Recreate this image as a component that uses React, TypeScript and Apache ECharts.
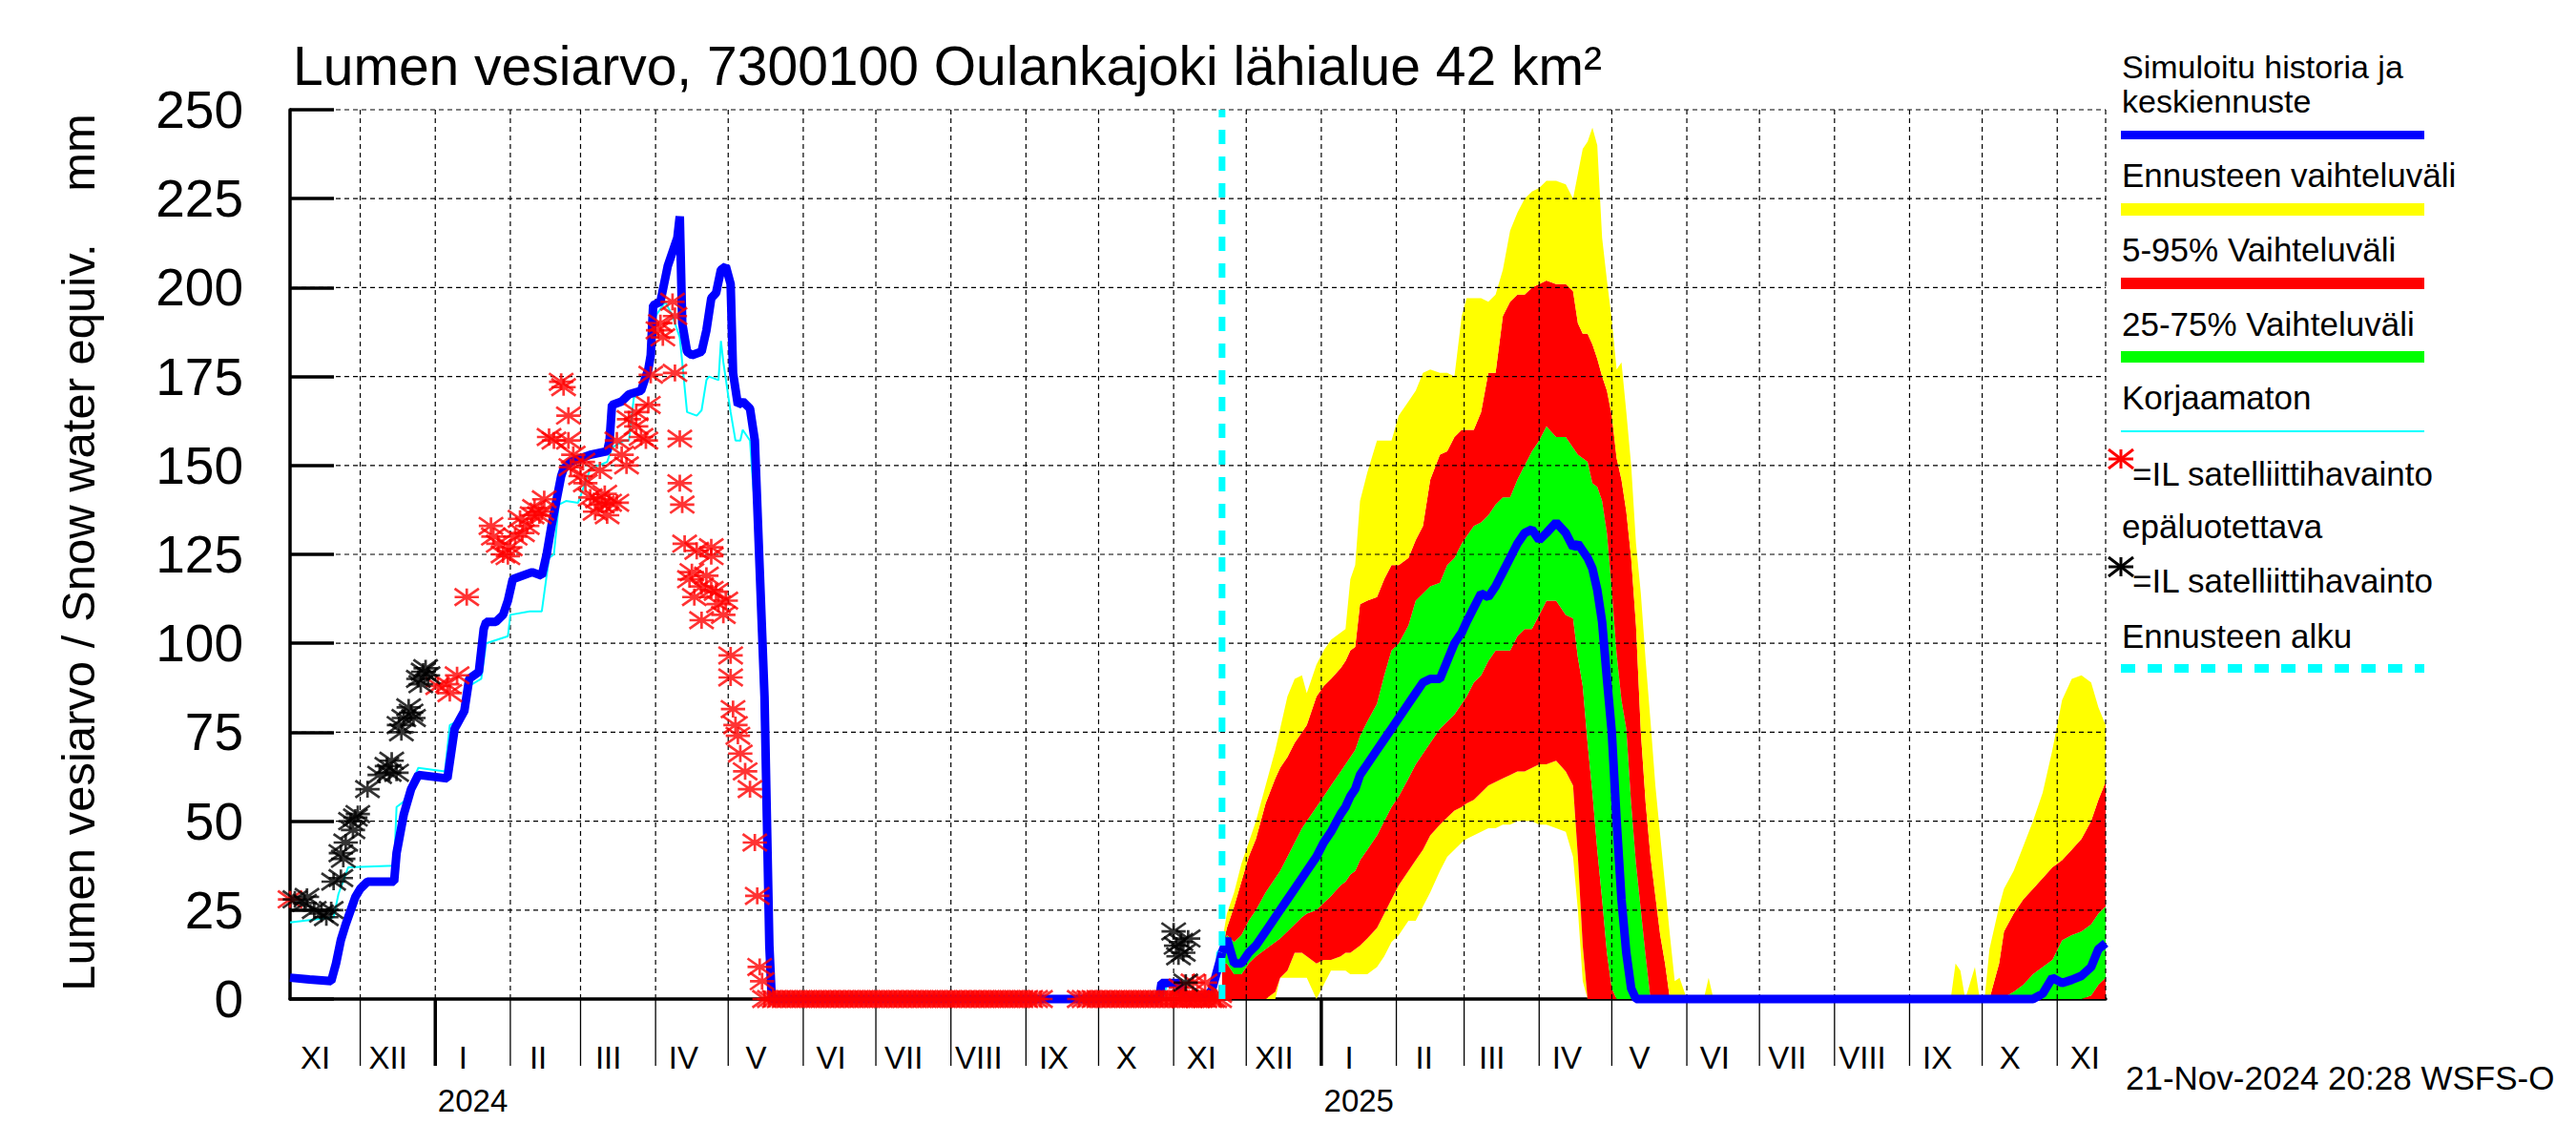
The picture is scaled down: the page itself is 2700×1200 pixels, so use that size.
import React, { useEffect, useRef } from 'react';
import * as echarts from 'echarts';

const FONT = '"Liberation Sans", Arial, Helvetica, sans-serif';

const TITLE = 'Lumen vesiarvo, 7300100 Oulankajoki lähialue 42 km²';
const Y_NAME = 'Lumen vesiarvo / Snow water equiv.    mm';
const STAMP = '21-Nov-2024 20:28 WSFS-O';
const X_MIN = '2023-11-02';
const X_MAX = '2025-11-21';
const FORECAST_START = '2024-11-21';

const yTicks = [0, 25, 50, 75, 100, 125, 150, 175, 200, 225, 250];
const monthLabels = ['XI', 'XII', 'I', 'II', 'III', 'IV', 'V', 'VI', 'VII', 'VIII', 'IX', 'X', 'XI', 'XII', 'I', 'II', 'III', 'IV', 'V', 'VI', 'VII', 'VIII', 'IX', 'X', 'XI'];
const yearLabels = ['2024', '2025'];

const legendLabels = {
  sim1: 'Simuloitu historia ja',
  sim2: 'keskiennuste',
  range: 'Ennusteen vaihteluväli',
  p595: '5-95% Vaihteluväli',
  p2575: '25-75% Vaihteluväli',
  raw: 'Korjaamaton',
  obs: '=IL satelliittihavainto',
  unrel: 'epäluotettava',
  start: 'Ennusteen alku',
};

// Simulated history (blue)
const simHistory: [string, number][] = [
  ['2023-11-02', 6], ['2023-11-10', 5.5], ['2023-11-19', 5], ['2023-11-21', 10], ['2023-11-23', 16.6],
  ['2023-11-25', 21], ['2023-11-29', 28.7], ['2023-12-01', 31], ['2023-12-04', 33], ['2023-12-15', 33],
  ['2023-12-16', 41], ['2023-12-19', 52], ['2023-12-22', 59], ['2023-12-25', 63], ['2024-01-06', 62],
  ['2024-01-09', 76], ['2024-01-13', 81], ['2024-01-15', 90], ['2024-01-19', 92], ['2024-01-21', 104],
  ['2024-01-22', 106], ['2024-01-26', 106], ['2024-01-29', 108], ['2024-01-31', 112], ['2024-02-02', 118],
  ['2024-02-10', 120], ['2024-02-14', 119], ['2024-02-16', 125], ['2024-02-18', 133], ['2024-02-20', 140],
  ['2024-02-22', 147], ['2024-02-23', 149], ['2024-02-26', 151], ['2024-03-05', 153], ['2024-03-12', 154],
  ['2024-03-13', 157], ['2024-03-14', 167], ['2024-03-18', 168], ['2024-03-21', 170], ['2024-03-26', 171],
  ['2024-03-29', 177], ['2024-03-30', 181], ['2024-03-31', 195], ['2024-04-03', 196], ['2024-04-06', 206],
  ['2024-04-10', 214], ['2024-04-11', 220], ['2024-04-12', 190], ['2024-04-14', 182], ['2024-04-16', 181],
  ['2024-04-20', 182], ['2024-04-22', 188], ['2024-04-24', 197], ['2024-04-26', 198.5], ['2024-04-28', 205],
  ['2024-04-30', 206], ['2024-05-02', 201], ['2024-05-03', 176], ['2024-05-05', 167], ['2024-05-07', 168],
  ['2024-05-10', 166], ['2024-05-12', 157], ['2024-05-13', 139], ['2024-05-14', 121], ['2024-05-15', 103],
  ['2024-05-16', 85], ['2024-05-17', 50], ['2024-05-18', 15], ['2024-05-19', 0], ['2024-10-26', 0],
  ['2024-10-27', 4.5], ['2024-11-03', 4.5], ['2024-11-05', 0.5], ['2024-11-15', 0.5], ['2024-11-17', 3],
  ['2024-11-19', 8], ['2024-11-21', 13],
];

// Uncorrected simulation (cyan)
const uncorrected: [string, number][] = [
  ['2023-11-02', 21.5], ['2023-11-20', 23], ['2023-11-22', 29.5], ['2023-11-26', 37], ['2023-12-15', 37.5],
  ['2023-12-16', 54], ['2023-12-19', 55.5], ['2023-12-25', 65], ['2024-01-05', 64], ['2024-01-07', 77],
  ['2024-01-10', 78], ['2024-01-13', 80], ['2024-01-15', 88], ['2024-01-20', 90], ['2024-01-22', 100],
  ['2024-01-31', 102], ['2024-02-01', 108], ['2024-02-09', 109], ['2024-02-14', 109], ['2024-02-17', 124],
  ['2024-02-19', 125], ['2024-02-21', 139], ['2024-02-24', 140], ['2024-02-29', 139.5], ['2024-03-05', 149],
  ['2024-03-12', 151], ['2024-03-14', 155], ['2024-03-19', 157], ['2024-03-21', 157], ['2024-03-23', 169],
  ['2024-03-27', 171], ['2024-03-30', 177], ['2024-03-31', 182], ['2024-04-01', 192], ['2024-04-05', 196],
  ['2024-04-08', 192], ['2024-04-11', 186], ['2024-04-12', 179], ['2024-04-14', 165], ['2024-04-18', 164],
  ['2024-04-20', 165.5], ['2024-04-22', 174], ['2024-04-23', 175], ['2024-04-27', 174], ['2024-04-28', 185],
  ['2024-04-29', 179], ['2024-05-02', 165], ['2024-05-04', 157], ['2024-05-06', 157], ['2024-05-07', 160],
  ['2024-05-10', 157], ['2024-05-11', 147], ['2024-05-13', 130], ['2024-05-14', 103], ['2024-05-15', 80],
  ['2024-05-17', 30], ['2024-05-18', 0], ['2024-10-28', 0], ['2024-10-29', 4], ['2024-11-04', 4],
  ['2024-11-05', 0], ['2024-11-18', 0], ['2024-11-19', 13], ['2024-11-21', 15],
];

// Satellite observations (red stars), non-zero
const satObs: [string, number][] = [
  ['2023-11-02', 28], ['2024-01-02', 88], ['2024-01-06', 88.5], ['2024-01-07', 86], ['2024-01-10', 91],
  ['2024-01-14', 113], ['2024-01-24', 133], ['2024-01-25', 130], ['2024-01-27', 128], ['2024-01-29', 125],
  ['2024-01-31', 124.5], ['2024-02-01', 127], ['2024-02-03', 130], ['2024-02-05', 135], ['2024-02-06', 131],
  ['2024-02-08', 133], ['2024-02-10', 136], ['2024-02-11', 138], ['2024-02-13', 136], ['2024-02-14', 137],
  ['2024-02-15', 140.5], ['2024-02-17', 158], ['2024-02-19', 157], ['2024-02-22', 173.5], ['2024-02-23', 172],
  ['2024-02-25', 164], ['2024-02-25', 157], ['2024-02-26', 149.5], ['2024-02-27', 153], ['2024-03-01', 147],
  ['2024-03-02', 151], ['2024-03-03', 145], ['2024-03-05', 141], ['2024-03-07', 137], ['2024-03-08', 140.5],
  ['2024-03-09', 148.6], ['2024-03-10', 139], ['2024-03-11', 142], ['2024-03-12', 136], ['2024-03-13', 139.5],
  ['2024-03-16', 139.5], ['2024-03-16', 157], ['2024-03-18', 153], ['2024-03-20', 150], ['2024-03-21', 163],
  ['2024-03-24', 161], ['2024-03-24', 165], ['2024-03-26', 158], ['2024-03-28', 157], ['2024-03-29', 167],
  ['2024-03-30', 175.5], ['2024-04-02', 188], ['2024-04-03', 190], ['2024-04-04', 186], ['2024-04-08', 196],
  ['2024-04-09', 192], ['2024-04-09', 176], ['2024-04-11', 157.5], ['2024-04-11', 145], ['2024-04-12', 139],
  ['2024-04-13', 128], ['2024-04-15', 118], ['2024-04-16', 120], ['2024-04-17', 113], ['2024-04-18', 126],
  ['2024-04-20', 116], ['2024-04-20', 106.5], ['2024-04-22', 119], ['2024-04-24', 127], ['2024-04-24', 124.5],
  ['2024-04-24', 115], ['2024-04-26', 114.5], ['2024-04-27', 111], ['2024-04-29', 108], ['2024-04-30', 112],
  ['2024-05-02', 96.6], ['2024-05-02', 90.4], ['2024-05-03', 81.5], ['2024-05-04', 77], ['2024-05-05', 74],
  ['2024-05-06', 69], ['2024-05-08', 64], ['2024-05-10', 59], ['2024-05-12', 44], ['2024-05-13', 29],
  ['2024-05-14', 9], ['2024-05-15', 5], ['2024-11-04', 3.2], ['2024-11-05', 0], ['2024-11-09', 4.6],
  ['2024-11-11', 0], ['2024-11-14', 4.6], ['2024-11-17', 0], ['2024-11-20', 1.4],
];

// Satellite observations at zero SWE (days of month)
const zeroObsMay24 = [16, 18, 20, 22, 24, 26, 28, 30];
const zeroObsJun24 = [1, 3, 5, 7, 9, 11, 13, 15, 17, 19, 21, 23, 25, 27, 29];
const zeroObsJul24 = [1, 3, 5, 7, 9, 11, 13, 15, 17, 19, 21, 23, 25, 27, 29, 31];
const zeroObsAug24 = [2, 4, 6, 8, 10, 12, 14, 16, 18, 20, 22, 24, 26, 28, 30];
const zeroObsSep24 = [1, 3, 5, 7, 23, 25, 27, 29];
const zeroObsOct24 = [1, 3, 5, 7, 9, 11, 13, 15, 17, 19, 21, 23, 25, 27, 29, 31];
const zeroObsNov24 = [2, 4, 6, 8, 10, 12, 14, 16, 18, 20];

// Unreliable satellite observations (black stars)
const satUnreliable: [string, number][] = [
  ['2023-11-04', 28], ['2023-11-08', 27], ['2023-11-09', 28.7], ['2023-11-12', 25], ['2023-11-15', 24],
  ['2023-11-17', 23], ['2023-11-19', 25], ['2023-11-20', 33], ['2023-11-23', 34], ['2023-11-23', 41],
  ['2023-11-24', 39.4], ['2023-11-25', 44], ['2023-11-27', 50], ['2023-11-28', 47.5], ['2023-11-29', 51],
  ['2023-11-30', 52], ['2023-12-04', 59], ['2023-12-09', 63], ['2023-12-12', 65.5], ['2023-12-13', 63.6],
  ['2023-12-14', 67], ['2023-12-16', 63.6], ['2023-12-17', 77], ['2023-12-18', 75], ['2023-12-19', 79],
  ['2023-12-21', 82], ['2023-12-22', 80.5], ['2023-12-23', 79], ['2023-12-25', 90], ['2023-12-26', 88.5],
  ['2023-12-27', 92], ['2023-12-28', 93], ['2023-12-29', 91],
  ['2024-11-01', 19], ['2024-11-02', 15], ['2024-11-03', 12], ['2024-11-04', 16], ['2024-11-05', 13],
  ['2024-11-06', 4.6], ['2024-11-07', 17],
];

// Forecast distribution
const fcDates = [
  '2024-11-21', '2024-11-23', '2024-11-26', '2024-11-29', '2024-12-02', '2024-12-05', '2024-12-09', '2024-12-13',
  '2024-12-15', '2024-12-18', '2024-12-21', '2024-12-24', '2024-12-26', '2024-12-30', '2025-01-02', '2025-01-05',
  '2025-01-09', '2025-01-11', '2025-01-13', '2025-01-15', '2025-01-17', '2025-01-20', '2025-01-24', '2025-01-27',
  '2025-01-30', '2025-02-02', '2025-02-06', '2025-02-09', '2025-02-12', '2025-02-15', '2025-02-19', '2025-02-22',
  '2025-02-25', '2025-02-28', '2025-03-02', '2025-03-05', '2025-03-08', '2025-03-11', '2025-03-14', '2025-03-17',
  '2025-03-20', '2025-03-23', '2025-03-26', '2025-03-29', '2025-04-01', '2025-04-04', '2025-04-08', '2025-04-12',
  '2025-04-15', '2025-04-17', '2025-04-19', '2025-04-21', '2025-04-23', '2025-04-25', '2025-04-27', '2025-04-29',
  '2025-05-01', '2025-05-03', '2025-05-05', '2025-05-07', '2025-05-09', '2025-05-11', '2025-05-13', '2025-05-15',
  '2025-05-17', '2025-05-19', '2025-05-21', '2025-05-23', '2025-05-25', '2025-05-27', '2025-05-29', '2025-06-01',
  '2025-06-08', '2025-06-10', '2025-06-12', '2025-06-20', '2025-09-15', '2025-09-18', '2025-09-20', '2025-09-22',
  '2025-09-24', '2025-09-28', '2025-09-30', '2025-10-02', '2025-10-04', '2025-10-06', '2025-10-08', '2025-10-10',
  '2025-10-14', '2025-10-18', '2025-10-22', '2025-10-26', '2025-10-30', '2025-11-03', '2025-11-07', '2025-11-11',
  '2025-11-15', '2025-11-18', '2025-11-21',
];
const fcMax = [
  16, 24, 30, 38, 44, 50, 60, 70, 76, 85, 90, 91, 86, 94, 98, 101,
  103, 104, 118, 122, 140, 148, 157, 157, 157, 164, 168, 171, 176, 177, 176, 176,
  175, 192, 197, 197, 197, 196, 198, 205, 216, 221, 225, 227, 228, 230, 230, 229,
  225, 232, 239, 241, 245, 240, 214, 202, 191, 177, 179, 165, 150, 128, 114, 95,
  78, 60, 46, 32, 18, 5, 6, 0, 0, 6, 0, 0, 0, 0, 10, 8,
  0, 9, 0, 0, 14, 20, 26, 31, 36, 43, 50, 58, 70, 84, 90, 91,
  89, 82, 77,
];
const fcP95 = [
  14, 20, 26, 33, 40, 45, 55, 62, 65, 68, 72, 75, 77, 85, 88, 90,
  93, 95, 98, 99, 111, 112, 113, 118, 122, 122, 124, 129, 133, 146, 153, 154,
  158, 160, 160, 160, 165, 176, 176, 192, 196, 198, 198, 200, 201, 202, 201, 201,
  199, 190, 187, 187, 184, 180, 175, 171, 164, 152, 146, 137, 124, 105, 75, 55,
  40, 29, 18, 10, 0, 0, 0, 0, 0, 0, 0, 0, 0, 0, 0, 0,
  0, 0, 0, 0, 0, 5, 10, 19, 24, 28, 31, 34, 37, 39, 42, 45,
  50, 56, 61,
];
const fcP75 = [
  13, 18, 16, 18, 22, 25, 30, 34, 36, 40, 44, 48, 50, 54, 57, 60,
  64, 66, 68, 70, 74, 78, 83, 91, 98, 100, 105, 112, 114, 116, 117, 122,
  124, 128, 130, 133, 134, 136, 139, 141, 141, 146, 150, 154, 157, 161, 158, 158,
  155, 153, 152, 151, 145, 144, 140, 131, 115, 97, 84, 76, 55, 38, 25, 12,
  0, 0, 0, 0, 0, 0, 0, 0, 0, 0, 0, 0, 0, 0, 0, 0,
  0, 0, 0, 0, 0, 0, 0, 0.5, 2, 4, 7, 9, 11, 16.5, 18, 19,
  21, 24, 26,
];
const fcMedian = [
  13, 17, 10, 10, 13, 15, 19, 23, 25, 28, 31, 34, 36, 40, 44, 47,
  52, 54, 57, 59, 63, 66, 70, 73, 76, 79, 83, 86, 89, 90, 90, 95,
  100, 103, 106, 110, 114, 113, 116, 120, 124, 128, 131, 132, 129, 131, 134, 131,
  127, 128, 126, 124, 121, 115, 106, 90, 75, 50, 28, 13, 3, 0, 0, 0,
  0, 0, 0, 0, 0, 0, 0, 0, 0, 0, 0, 0, 0, 0, 0, 0,
  0, 0, 0, 0, 0, 0, 0, 0, 0, 0, 0, 1.5, 6, 4.5, 5.4, 6.5,
  9, 14, 15.7,
];
const fcP25 = [
  10, 10, 7, 7, 10, 12, 14, 16, 17, 19, 21, 23, 24, 25, 27, 29,
  32, 33, 35, 36, 39, 42, 46, 50, 54, 57, 62, 66, 69, 72, 76, 78,
  80, 83, 85, 89, 91, 95, 98, 98, 98, 102, 104, 104, 108, 112, 112, 108,
  107, 96, 88, 72, 58, 42, 28, 13, 3, 0, 0, 0, 0, 0, 0, 0,
  0, 0, 0, 0, 0, 0, 0, 0, 0, 0, 0, 0, 0, 0, 0, 0,
  0, 0, 0, 0, 0, 0, 0, 0, 0, 0, 0, 0, 0, 0, 0, 0,
  1, 4, 6,
];
const fcP05 = [
  2, 0, 0, 0, 0, 0, 0, 2, 6, 8, 13, 13, 12, 10, 11, 11,
  12, 13, 13, 14, 15, 17, 20, 24, 28, 32, 36, 39, 42, 46, 49, 51,
  53, 54, 55, 56, 58, 60, 61, 62, 63, 64, 64, 65, 66, 66, 67, 64,
  60, 40, 15, 0, 0, 0, 0, 0, 0, 0, 0, 0, 0, 0, 0, 0,
  0, 0, 0, 0, 0, 0, 0, 0, 0, 0, 0, 0, 0, 0, 0, 0,
  0, 0, 0, 0, 0, 0, 0, 0, 0, 0, 0, 0, 0, 0, 0, 0,
  0, 0, 0,
];
const fcMin = [
  0, 0, 0, 0, 0, 0, 0, 0, 6, 6, 6, 6, 6, 0, 4, 8,
  8, 8, 7, 7, 7, 7, 9, 12, 16, 18, 22, 22, 26, 30, 36, 40,
  42, 44, 45, 46, 47, 48, 48, 49, 49, 50, 50, 50, 49, 49, 48, 47,
  40, 25, 5, 0, 0, 0, 0, 0, 0, 0, 0, 0, 0, 0, 0, 0,
  0, 0, 0, 0, 0, 0, 0, 0, 0, 0, 0, 0, 0, 0, 0, 0,
  0, 0, 0, 0, 0, 0, 0, 0, 0, 0, 0, 0, 0, 0, 0, 0,
  0, 0, 0,
];

const BLUE = '#0000ff';
const YELLOW = '#ffff00';
const RED = '#ff0000';
const GREEN = '#00ff00';
const CYAN = '#00ffff';

const STAR =
  'path://M0,8.5L28,8.5L28,11.5L0,11.5Z' +
  'M12.5,0L15.5,0L15.5,20L12.5,20Z' +
  'M0.87,-1.22L28.87,18.78L27.13,21.22L-0.87,1.22Z' +
  'M-0.87,18.78L27.13,-1.22L28.87,1.22L0.87,21.22Z';

function ts(s: string) {
  const [y, m, d] = s.split('-').map(Number);
  return new Date(y, m - 1, d).getTime();
}

function buildOption() {
  const xMin = ts(X_MIN);
  const xMax = ts(X_MAX);

  const zeroObs: [number, number][] = [];
  const addZero = (ym: string, days: number[]) =>
    days.forEach((d) => zeroObs.push([ts(`${ym}-${String(d).padStart(2, '0')}`), 0]));
  addZero('2024-05', zeroObsMay24);
  addZero('2024-06', zeroObsJun24);
  addZero('2024-07', zeroObsJul24);
  addZero('2024-08', zeroObsAug24);
  addZero('2024-09', zeroObsSep24);
  addZero('2024-10', zeroObsOct24);
  addZero('2024-11', zeroObsNov24);

  const toXY = (arr: [string, number][]) => arr.map(([d, v]) => [ts(d), v]);

  // month grid items: [monthStart, labelPos, index, 0, yearIndex, yearLabelPos]
  let yearIdx = 0;
  const monthItems = monthLabels.map((_, i) => {
    const y = 2023 + Math.floor((10 + i) / 12);
    const m = (10 + i) % 12;
    const start = new Date(y, m, 1).getTime();
    const labelAt = new Date(y, m, 12, 12).getTime();
    let yi = -1;
    let yPos = 0;
    if (m === 0) {
      yi = yearIdx++;
      yPos = new Date(y, 0, 16, 12).getTime();
    }
    return [start, labelAt, i, 0, yi, yPos];
  });

  const bandLayers = [
    { lo: fcMin, hi: fcP05, color: YELLOW },
    { lo: fcP05, hi: fcP25, color: RED },
    { lo: fcP25, hi: fcP75, color: GREEN },
    { lo: fcP75, hi: fcP95, color: RED },
    { lo: fcP95, hi: fcMax, color: YELLOW },
  ];

  const bandSeries: any[] = [
    {
      type: 'line',
      stack: 'fc',
      data: fcDates.map((d, i) => [ts(d), fcMin[i]]),
      symbol: 'none',
      lineStyle: { width: 0, opacity: 0 },
      silent: true,
      z: 2,
    },
    ...bandLayers.map((b) => ({
      type: 'line',
      stack: 'fc',
      data: fcDates.map((d, i) => [ts(d), Math.max(0, b.hi[i] - b.lo[i])]),
      symbol: 'none',
      lineStyle: { width: 0, opacity: 0 },
      areaStyle: { color: b.color, opacity: 1 },
      silent: true,
      z: 2,
    })),
  ];

  const textStyle = (text: string, size: number, align = 'left') => ({
    text,
    fill: '#000',
    fontSize: size,
    fontFamily: FONT,
    align,
    verticalAlign: 'middle',
  });

  const starLines = (cx: number, cy: number, color: string) => [
    { type: 'line', shape: { x1: cx - 13, y1: cy, x2: cx + 13, y2: cy }, style: { stroke: color, lineWidth: 3 } },
    { type: 'line', shape: { x1: cx, y1: cy - 10, x2: cx, y2: cy + 10 }, style: { stroke: color, lineWidth: 3 } },
    { type: 'line', shape: { x1: cx - 13, y1: cy - 10, x2: cx + 13, y2: cy + 10 }, style: { stroke: color, lineWidth: 3 } },
    { type: 'line', shape: { x1: cx - 13, y1: cy + 10, x2: cx + 13, y2: cy - 10 }, style: { stroke: color, lineWidth: 3 } },
  ];

  const LX = 2224;
  const graphicElements: any[] = [
    { type: 'text', x: 82, y: 579, rotation: Math.PI / 2, style: textStyle(Y_NAME, 49, 'center') },
    { type: 'text', x: 2228, y: 1129, style: textStyle(STAMP, 35) },
    { type: 'text', x: LX, y: 70, style: textStyle(legendLabels.sim1, 34) },
    { type: 'text', x: LX, y: 106, style: textStyle(legendLabels.sim2, 34) },
    { type: 'rect', shape: { x: 2223, y: 137, width: 318, height: 9 }, style: { fill: BLUE } },
    { type: 'text', x: LX, y: 183, style: textStyle(legendLabels.range, 35) },
    { type: 'rect', shape: { x: 2223, y: 213, width: 318, height: 13 }, style: { fill: YELLOW } },
    { type: 'text', x: LX, y: 261, style: textStyle(legendLabels.p595, 35) },
    { type: 'rect', shape: { x: 2223, y: 291, width: 318, height: 12 }, style: { fill: RED } },
    { type: 'text', x: LX, y: 339, style: textStyle(legendLabels.p2575, 35) },
    { type: 'rect', shape: { x: 2223, y: 368, width: 318, height: 12 }, style: { fill: GREEN } },
    { type: 'text', x: LX, y: 416, style: textStyle(legendLabels.raw, 35) },
    { type: 'rect', shape: { x: 2223, y: 451, width: 318, height: 2 }, style: { fill: CYAN } },
    ...starLines(2223, 481, RED),
    { type: 'text', x: 2235, y: 496, style: textStyle(legendLabels.obs, 35) },
    { type: 'text', x: LX, y: 551, style: textStyle(legendLabels.unrel, 35) },
    ...starLines(2223, 594, '#000'),
    { type: 'text', x: 2235, y: 608, style: textStyle(legendLabels.obs, 35) },
    { type: 'text', x: LX, y: 666, style: textStyle(legendLabels.start, 35) },
    {
      type: 'line',
      shape: { x1: 2223, y1: 700.5, x2: 2541, y2: 700.5 },
      style: { stroke: CYAN, lineWidth: 9, lineDash: [15, 13] },
    },
  ];

  return {
    animation: false,
    backgroundColor: '#ffffff',
    title: {
      text: TITLE,
      left: 307,
      top: 40,
      padding: 0,
      textStyle: { fontSize: 57, fontWeight: 'normal', color: '#000', fontFamily: FONT },
    },
    grid: { left: 304, top: 115, width: 1903, height: 932, containLabel: false },
    xAxis: {
      type: 'time',
      min: xMin,
      max: xMax,
      axisLine: { show: true, onZero: false, lineStyle: { color: '#000', width: 3.5 } },
      axisTick: { show: false },
      axisLabel: { show: false },
      splitLine: { show: false },
    },
    yAxis: {
      type: 'value',
      min: 0,
      max: 250,
      interval: 25,
      axisLine: { show: true, lineStyle: { color: '#000', width: 3.5 } },
      axisTick: { show: true, inside: true, length: 46, lineStyle: { color: '#000', width: 3.5 } },
      axisLabel: {
        color: '#000',
        fontSize: 55,
        fontFamily: FONT,
        margin: 49,
        padding: [0, 0, 16, 0],
      },
      splitLine: { show: false },
    },
    graphic: { elements: graphicElements },
    series: [
      ...bandSeries,
      {
        type: 'custom',
        name: 'hgrid',
        silent: true,
        z: 3,
        encode: { x: 0, y: 1 },
        data: yTicks.filter((v) => v > 0).map((v) => [xMin, v]),
        renderItem: (params: any, api: any) => {
          const cs = params.coordSys;
          const y = api.coord([api.value(0), api.value(1)])[1];
          const children: any[] = [
            {
              type: 'line',
              shape: { x1: cs.x + 3, y1: y, x2: cs.x + cs.width, y2: y },
              style: { stroke: '#000', lineWidth: 1.2, lineDash: [5, 4] },
            },
          ];
          if (params.dataIndex === 0) {
            children.push({
              type: 'line',
              shape: { x1: cs.x + cs.width, y1: cs.y, x2: cs.x + cs.width, y2: cs.y + cs.height },
              style: { stroke: '#000', lineWidth: 1.2, lineDash: [5, 4] },
            });
          }
          return { type: 'group', children };
        },
      },
      {
        type: 'custom',
        name: 'months',
        silent: true,
        z: 3,
        encode: { x: 0, y: 3 },
        data: monthItems,
        renderItem: (params: any, api: any) => {
          const cs = params.coordSys;
          const bottom = cs.y + cs.height;
          const i = api.value(2);
          const px = api.coord([api.value(0), 0])[0];
          const lx = api.coord([api.value(1), 0])[0];
          const yi = api.value(4);
          const children: any[] = [];
          if (px > cs.x + 2 && px < cs.x + cs.width - 2) {
            children.push({
              type: 'line',
              shape: { x1: px, y1: cs.y, x2: px, y2: bottom },
              style: { stroke: '#000', lineWidth: 1.2, lineDash: [5, 4] },
            });
            children.push({
              type: 'line',
              shape: { x1: px, y1: bottom, x2: px, y2: bottom + 70 },
              style: { stroke: '#000', lineWidth: yi >= 0 ? 3.5 : 1.3 },
            });
          }
          children.push({
            type: 'text',
            x: lx,
            y: bottom + 61,
            style: { text: monthLabels[i], fill: '#000', fontSize: 33, fontFamily: FONT, align: 'center', verticalAlign: 'middle' },
          });
          if (yi >= 0) {
            const yx = api.coord([api.value(5), 0])[0];
            children.push({
              type: 'text',
              x: yx,
              y: bottom + 106,
              style: { text: yearLabels[yi], fill: '#000', fontSize: 33, fontFamily: FONT, align: 'center', verticalAlign: 'middle' },
            });
          }
          return { type: 'group', children };
        },
      },
      {
        type: 'line',
        name: 'Korjaamaton',
        data: toXY(uncorrected),
        symbol: 'none',
        clip: false,
        lineStyle: { color: CYAN, width: 2 },
        z: 4,
      },
      {
        type: 'line',
        name: 'Simuloitu historia',
        data: toXY(simHistory),
        symbol: 'none',
        clip: false,
        lineStyle: { color: BLUE, width: 9 },
        z: 5,
      },
      {
        type: 'line',
        name: 'Keskiennuste',
        data: fcDates.map((d, i) => [ts(d), fcMedian[i]]),
        symbol: 'none',
        clip: false,
        lineStyle: { color: BLUE, width: 9 },
        z: 5,
      },
      {
        type: 'scatter',
        name: 'Satelliittihavainto',
        data: [...toXY(satObs), ...zeroObs],
        symbol: STAR,
        symbolSize: [27, 20],
        clip: false,
        itemStyle: { color: RED },
        z: 6,
      },
      {
        type: 'scatter',
        name: 'Epäluotettava',
        data: toXY(satUnreliable),
        symbol: STAR,
        symbolSize: [27, 20],
        clip: false,
        itemStyle: { color: '#000' },
        z: 6,
      },
      {
        type: 'line',
        name: 'Ennusteen alku',
        data: [
          [ts(FORECAST_START), 0],
          [ts(FORECAST_START), 250],
        ],
        symbol: 'none',
        lineStyle: { color: CYAN, width: 7, type: [15, 13] },
        z: 7,
      },
    ],
  };
}

export default function App() {
  const ref = useRef<HTMLDivElement>(null);
  useEffect(() => {
    if (!ref.current) return;
    const chart = echarts.init(ref.current, null, { renderer: 'svg', width: 2700, height: 1200 });
    chart.setOption(buildOption() as any);
    return () => chart.dispose();
  }, []);
  return (
    <div
      ref={ref}
      style={{ position: 'fixed', left: 0, top: 0, width: 2700, height: 1200, background: '#fff' }}
    />
  );
}
